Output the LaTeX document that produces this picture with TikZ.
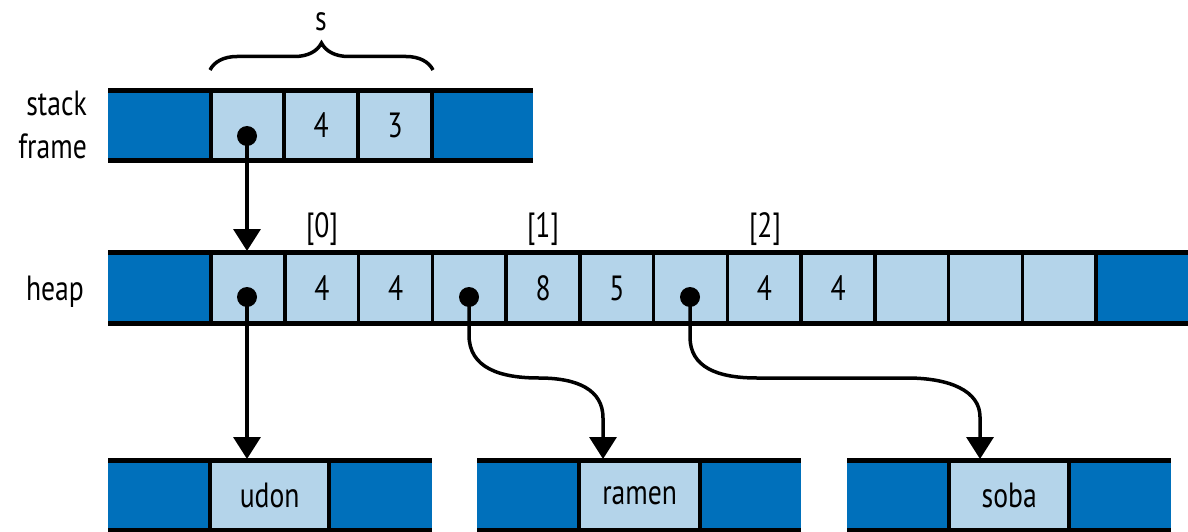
\documentclass[tikz,border=0pt]{standalone}
\usepackage{fontspec}
\setmainfont{PT Sans}[FakeStretch=0.79]
\usetikzlibrary{arrows.meta,decorations.pathreplacing}
\definecolor{darkblue}{RGB}{0,112,187}
\definecolor{lightblue}{RGB}{180,212,234}
\tikzset{
  dcell/.style={fill=darkblue, draw=none, inner sep=0pt, minimum height=70pt, anchor=west},
  lcell/.style={fill=lightblue, draw=none, inner sep=0pt, minimum height=70pt, anchor=west,
                font=\fontsize{35}{40}\selectfont},
  sep/.style={line width=3.5pt},
  hline/.style={line width=5pt},
  lbl/.style={inner sep=0pt, font=\fontsize{35}{40}\selectfont},
  dotc/.style={circle, fill=black, inner sep=0pt, minimum size=20pt},
  ptr/.style={line width=3.5pt, -{Triangle[width=27pt,length=22pt]}},
  bracedec/.style={line width=3.5pt, decorate, decoration={brace, amplitude=27pt}},
}
\begin{document}
\begin{tikzpicture}[x=1pt,y=-1pt]
\useasboundingbox (0,0) rectangle (1188,532);
% ---------- stack frame ----------
\node[dcell, minimum width=103pt] (s0) at (108,125.5) {};
\node[lcell, minimum width=73pt] (s1) at (211,125.5) {};
\node[lcell, minimum width=74pt] (s2) at (284,125.5) {4};
\node[lcell, minimum width=74pt] (s3) at (358,125.5) {3};
\node[dcell, minimum width=101pt] (s4) at (432,125.5) {};
\foreach \n in {s1,s2,s3,s4} \draw[sep] (\n.north west) -- (\n.south west);
\draw[hline] (s0.north west) -- (s4.north east);
\draw[hline] (s0.south west) -- (s4.south east);
% ---------- heap ----------
\node[dcell, minimum width=103pt] (hl) at (108,288) {};
\foreach \i in {0,...,11}
  \node[lcell, minimum width=73.75pt] (h\i) at ({211+73.75*\i},288) {};
\node[dcell, minimum width=92pt] (hr) at (1096,288) {};
\foreach \n in {h0,h1,h2,h3,h4,h5,h6,h7,h8,h9,h10,h11,hr} \draw[sep] (\n.north west) -- (\n.south west);
\draw[hline] (hl.north west) -- (hr.north east);
\draw[hline] (hl.south west) -- (hr.south east);
\node[lbl] (v1) at (h1) {4};
\node[lbl] (v2) at (h2) {4};
\node[lbl] (v4) at (h4) {8};
\node[lbl] (v5) at (h5) {5};
\node[lbl] (v7) at (h7) {4};
\node[lbl] (v8) at (h8) {4};
\node[lbl] (i0) at (322,229) {[0]};
\node[lbl] (i1) at (543,229) {[1]};
\node[lbl] (i2) at (765,229) {[2]};
% ---------- strings ----------
\node[dcell, minimum width=102pt] (u0) at (108,495.5) {};
\node[lcell, minimum width=119pt] (u1) at (210,495.5) {udon};
\node[dcell, minimum width=103pt] (u2) at (329,495.5) {};
\node[dcell, minimum width=102pt] (r0) at (477,495.5) {};
\node[lcell, minimum width=121pt] (r1) at (579,495.5) {ramen};
\node[dcell, minimum width=101pt] (r2) at (700,495.5) {};
\node[dcell, minimum width=102pt] (o0) at (847,495.5) {};
\node[lcell, minimum width=120pt] (o1) at (949,495.5) {soba};
\node[dcell, minimum width=102pt] (o2) at (1069,495.5) {};
\foreach \n in {u1,u2,r1,r2,o1,o2} \draw[sep] (\n.north west) -- (\n.south west);
\foreach \a/\b in {u0/u2,r0/r2,o0/o2} {
  \draw[hline] (\a.north west) -- (\b.north east);
  \draw[hline] (\a.south west) -- (\b.south east);
}
% ---------- labels ----------
\node[lbl, anchor=base east] (lstack) at (87,116) {stack};
\node[lbl, anchor=base east] (lframe) at (87,158) {frame};
\node[lbl, anchor=base] (lheap) at (55,300) {heap};
\node[lbl] (ls) at (321,22) {s};
\coordinate (bl) at (210,70);
\coordinate (br) at (433,70);
\draw[bracedec] (bl) -- (br);
% ---------- pointers ----------
\node[dotc] (d0) at (247,136) {};
\node[dotc] (d1) at (247,297) {};
\node[dotc] (d2) at (469,297) {};
\node[dotc] (d3) at (690,297) {};
\coordinate (t0) at (247,251);
\coordinate (t1) at (247,459);
\coordinate (t2) at (603,459);
\coordinate (t3) at (980,459);
\draw[ptr] (d0.center) -- (t0);
\draw[ptr] (d1.center) -- (t1);
\draw[ptr] (d2.center) -- (469,335) .. controls (469,368) and (500,378) .. (539,378)
   .. controls (578,378) and (603,390) .. (603,418) -- (t2);
\draw[ptr] (d3.center) -- (690,337) .. controls (690,367) and (717,378) .. (757,378) -- (907,378)
   .. controls (950,378) and (980,391) .. (980,417) -- (t3);
\end{tikzpicture}
\end{document}
